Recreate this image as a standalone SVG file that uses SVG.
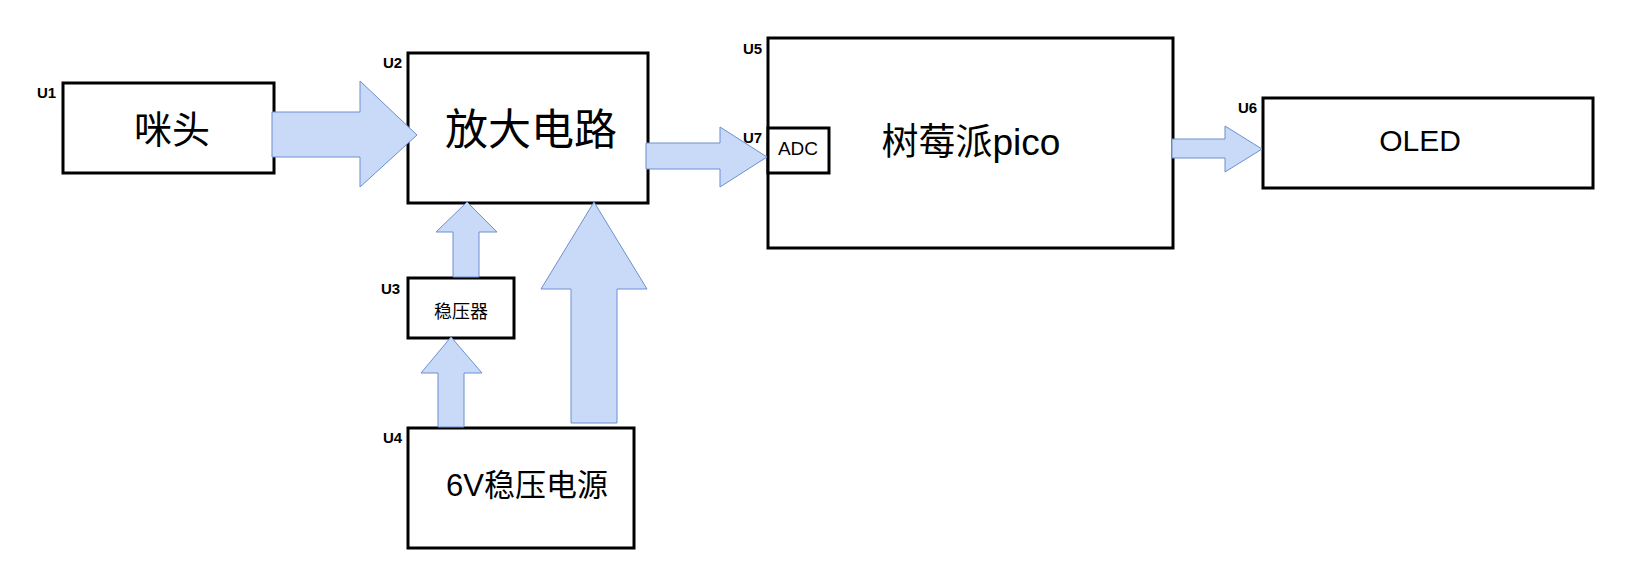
<svg xmlns="http://www.w3.org/2000/svg" width="1632" height="586" viewBox="0 0 1632 586">
<style>
.box{fill:#fff;stroke:#000;stroke-width:3}
.lbl{font-family:"Liberation Sans",Arial,sans-serif;font-weight:bold;font-size:15px;fill:#000}
.txt{font-family:"Liberation Sans","Noto Sans CJK SC",sans-serif;fill:#000;text-anchor:middle;dominant-baseline:central}
.arr{fill:#c9daf8;stroke:#6d8fcf;stroke-width:1}
</style>
<rect width="1632" height="586" fill="#fff"/>
<g id="U1">
<rect class="box" x="63" y="83" width="211" height="90"/>
<text class="lbl" x="37" y="98">U1</text>
<text class="txt" x="172" y="130" font-size="38">咪头</text>
</g>
<g id="U2">
<rect class="box" x="408" y="53" width="240" height="150"/>
<text class="lbl" x="383" y="68">U2</text>
<text class="txt" x="531" y="130" font-size="43">放大电路</text>
</g>
<g id="U3">
<rect class="box" x="408" y="278" width="106" height="60"/>
<text class="lbl" x="381" y="294">U3</text>
<text class="txt" x="461" y="312" font-size="18">稳压器</text>
</g>
<g id="U4">
<rect class="box" x="408" y="428" width="226" height="120"/>
<text class="lbl" x="383" y="443">U4</text>
<text class="txt" x="527" y="485" font-size="31">6V稳压电源</text>
</g>
<g id="U5">
<rect class="box" x="768" y="38" width="405" height="210"/>
<text class="lbl" x="743" y="54">U5</text>
<text class="txt" x="971" y="142" font-size="37">树莓派pico</text>
</g>
<g id="U7">
<text class="lbl" x="743" y="143">U7</text>
<rect class="box" x="768" y="128" width="61" height="45"/>
<text class="txt" x="798" y="148" font-size="19">ADC</text>
</g>
<g id="U6">
<rect class="box" x="1263" y="98" width="330" height="90"/>
<text class="lbl" x="1238" y="113">U6</text>
<text class="txt" x="1420" y="140" font-size="30">OLED</text>
</g>
<g id="connectors">
<polygon class="arr" points="272,112 360,112 360,81 417,135 360,187 360,157 272,157"/>
<polygon class="arr" points="646,143 720,143 720,127 767,157 720,187 720,169 646,169"/>
<polygon class="arr" points="1172,139 1225,139 1225,126 1262,149 1225,172 1225,158 1172,158"/>
<polygon class="arr" points="453,277 453,232 436,232 467,202 497,232 479,232 479,277"/>
<polygon class="arr" points="438,427 438,373 421,373 451,337 482,373 464,373 464,427"/>
<polygon class="arr" points="571,423 571,289 541,289 594,202 647,289 617,289 617,423"/>
</g>
</svg>
